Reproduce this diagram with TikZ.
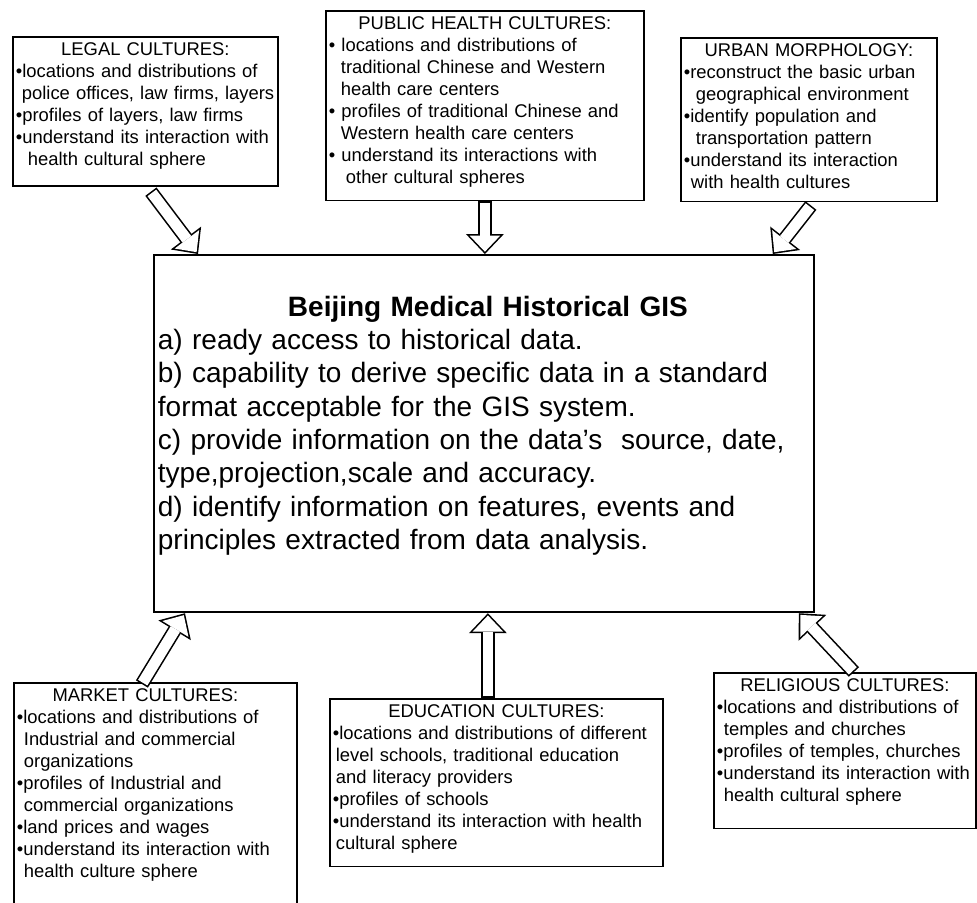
\documentclass[tikz,border=0pt]{standalone}
\usepackage{fontspec}
\setmainfont{Liberation Sans}
\usetikzlibrary{positioning, arrows.meta, calc}
\newcommand{\bul}{\textbullet}
\newcommand{\indA}{\hspace*{3.5pt}}
\newcommand{\indB}{\hspace*{6pt}}
\newcommand{\padb}[1]{\rule[-#1]{0pt}{#1}}
\newcommand{\boxtitle}[1]{\makebox[\linewidth][c]{#1}}

\begin{document}
\begin{tikzpicture}[
  x=0.5pt, y=-0.5pt,
  culture/.style={draw, line width=0.9pt, anchor=north west, align=left,
                  inner xsep=1.5pt, inner ysep=3pt,
                  font=\fontsize{9.2}{11}\selectfont},
  gisbox/.style={draw, line width=0.9pt, anchor=north west, align=left,
                 inner xsep=2pt, inner ysep=20.5pt,
                 font=\fontsize{14}{16.65}\selectfont},
  blockarrow/.style={line width=7pt,
                     -{Triangle[length=10pt, width=19pt, line width=0pt]},
                     postaction={draw=white, line width=5.4pt,
                                 shorten <=0.8pt, shorten >=1.16pt,
                                 -{Triangle[length=8.04pt, width=15.28pt, line width=0pt]}}},
]
  \clip (0,0) rectangle (977,902);
  % Central GIS box
  \node[gisbox, text width=326pt] (gis) at (153,254) {%
    \boxtitle{\hspace{4pt}\textbf{Beijing Medical Historical GIS}}\\
    a) ready access to historical data.\\
    b) capability to derive specific data in a standard\\
    format acceptable for the GIS system.\\
    c) provide information on the data's~ source, date,\\
    type,projection,scale and accuracy.\\
    d) identify information on features, events and\\
    principles extracted from data analysis.\padb{11pt}};
  % Legal cultures
  \node[culture, text width=129.5pt] (legal) at (12,36) {%
    \boxtitle{LEGAL CULTURES:}\\
    \bul locations and distributions of\\
    \mbox{\hspace*{3pt}police offices, law firms, layers}\\
    \bul profiles of layers, law firms\\
    \bul understand its interaction with\\
    \indB health cultural sphere\padb{7pt}};
  % Public health cultures
  \node[culture, text width=156pt] (public) at (325,10) {%
    \boxtitle{PUBLIC HEALTH CULTURES:}\\
    \bul{} locations and distributions of\\
    \indB traditional Chinese and Western\\
    \indB health care centers\\
    \bul{} profiles of traditional Chinese and\\
    \indB Western health care centers\\
    \bul{} understand its interactions with\\
    \hspace*{8.5pt}other cultural spheres\padb{5.4pt}};
  % Urban morphology
  \node[culture, text width=125pt] (urban) at (680,37) {%
    \boxtitle{URBAN MORPHOLOGY:}\\
    \bul reconstruct the basic urban\\
    \indB geographical environment\\
    \bul identify population and\\
    \indB transportation pattern\\
    \bul understand its interaction\\
    \indA with health cultures\padb{3.4pt}};
  % Market cultures
  \node[culture, text width=138.5pt] (market) at (13,682) {%
    \boxtitle{MARKET CULTURES:\hspace{10pt}}\\
    \bul locations and distributions of\\
    \indA Industrial and commercial\\
    \indA organizations\\
    \bul profiles of Industrial and\\
    \indA commercial organizations\\
    \bul land prices and wages\\
    \bul understand its interaction with\\
    \indA health culture sphere\padb{20pt}};
  % Education cultures
  \node[culture, text width=163.5pt] (edu) at (329,698) {%
    \boxtitle{EDUCATION CULTURES:}\\
    \bul locations and distributions of different\\
    \hspace*{1.5pt}level schools, traditional education\\
    \hspace*{1.5pt}and literacy providers\\
    \bul profiles of schools\\
    \bul understand its interaction with health\\
    \hspace*{1.5pt}cultural sphere\padb{5.4pt}};
  % Religious cultures
  \node[culture, text width=128pt] (relig) at (713,672) {%
    \boxtitle{RELIGIOUS CULTURES:}\\
    \bul locations and distributions of\\
    \indA temples and churches\\
    \bul profiles of temples, churches\\
    \bul understand its interaction with\\
    \indA health cultural sphere\padb{10.4pt}};
  % Arrow ends
  \coordinate (legal_out) at ($(legal.south)+(5.5,5)$);
  \coordinate (gis_legal) at ($(gis.north west)+(45,0)$);
  \coordinate (urban_out) at ($(urban.south)+(2,3)$);
  \coordinate (gis_urban) at ($(gis.north east)+(-42,0)$);
  \coordinate (market_out) at ($(market.north)+(-13.5,2)$);
  \coordinate (gis_market) at ($(gis.south west)+(32,0)$);
  \coordinate (edu_out) at ($(edu.north)+(-8.5,0)$);
  \coordinate (relig_out) at ($(relig.north)+(9,0)$);
  \coordinate (gis_relig) at ($(gis.south east)+(-16,0)$);
  % Arrows
  \draw[blockarrow] (legal_out) -- (gis_legal);
  \draw[blockarrow] (public.south) -- (public.south |- gis.north);
  \draw[blockarrow] (urban_out) -- (gis_urban);
  \draw[blockarrow] (market_out) -- (gis_market);
  \draw[blockarrow] (edu_out) -- (edu_out |- gis.south);
  \draw[blockarrow] (relig_out) -- (gis_relig);
\end{tikzpicture}
\end{document}
